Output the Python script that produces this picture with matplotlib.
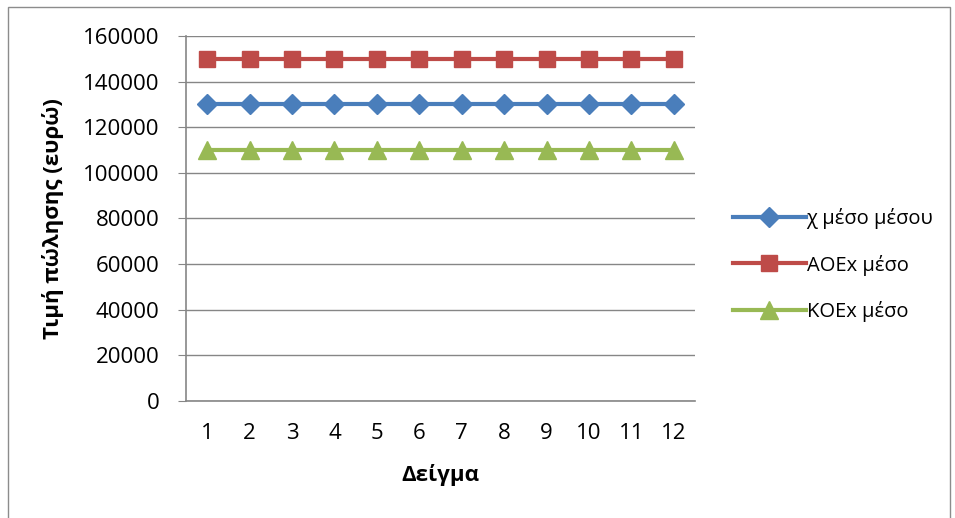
import matplotlib
matplotlib.use("Agg")
import matplotlib.pyplot as plt
from matplotlib.patches import Rectangle

plt.rcParams['font.family'] = ['Open Sans', 'DejaVu Sans']

# Sample numbers and the average prices of each series
samples = list(range(1, 13))
x_mean_mean = [130000] * 12
aoex_mean = [150000] * 12
koex_mean = [110000] * 12

series_names = ['χ μέσο μέσου', 'AOEx μέσο', 'KOEx μέσο']
series_colors = ['#4A7EBB', '#BE4B48', '#98B954']
series_markers = ['D', 's', '^']
marker_sizes = [10.5, 12, 13]
y_ticks = list(range(0, 160001, 20000))

fig = plt.figure(figsize=(9.55, 5.18), dpi=100)
ax = fig.add_axes([186 / 955, 1 - 401 / 518, (695 - 186) / 955, (401 - 36) / 518])

# Outer chart frame
fig.patches.append(Rectangle((8 / 955, -0.01), (950 - 8) / 955, 1 - 7 / 518 + 0.01,
                             transform=fig.transFigure, fill=False,
                             edgecolor='#8c8c8c', linewidth=1))

for vals, name, col, mk, ms in zip([x_mean_mean, aoex_mean, koex_mean], series_names,
                                   series_colors, series_markers, marker_sizes):
    ax.plot(samples, vals, color=col, linewidth=3, marker=mk, markersize=ms,
            markeredgecolor=col, label=name, zorder=3)

ax.set_xlim(0.5, 12.5)
ax.set_ylim(0, 160000)
ax.set_yticks(y_ticks)
ax.set_xticks(samples)
ax.yaxis.grid(True, color='#868686', linewidth=1)
ax.set_axisbelow(True)

for side in ['top', 'right']:
    ax.spines[side].set_visible(False)
for side in ['left', 'bottom']:
    ax.spines[side].set_color('#868686')
    ax.spines[side].set_linewidth(1.2)

ax.tick_params(axis='y', length=6, color='#868686', labelsize=16, pad=13)
ax.tick_params(axis='x', length=0, labelsize=16, pad=16)

ax.set_xlabel('Δείγμα', fontsize=16, fontweight='bold', labelpad=14)
ax.set_ylabel('Τιμή πώλησης (ευρώ)', fontsize=16, fontweight='bold', labelpad=14)

# Legend sits to the right of the plot, a little below its middle
ax.legend(loc='center left', bbox_to_anchor=(733 / 955, 1 - 265 / 518),
          bbox_transform=fig.transFigure, frameon=False, borderpad=0,
          borderaxespad=0, fontsize=14.5, handlelength=3.6, handletextpad=0.05,
          labelspacing=1.25)

fig.savefig('out.png', dpi=100)
